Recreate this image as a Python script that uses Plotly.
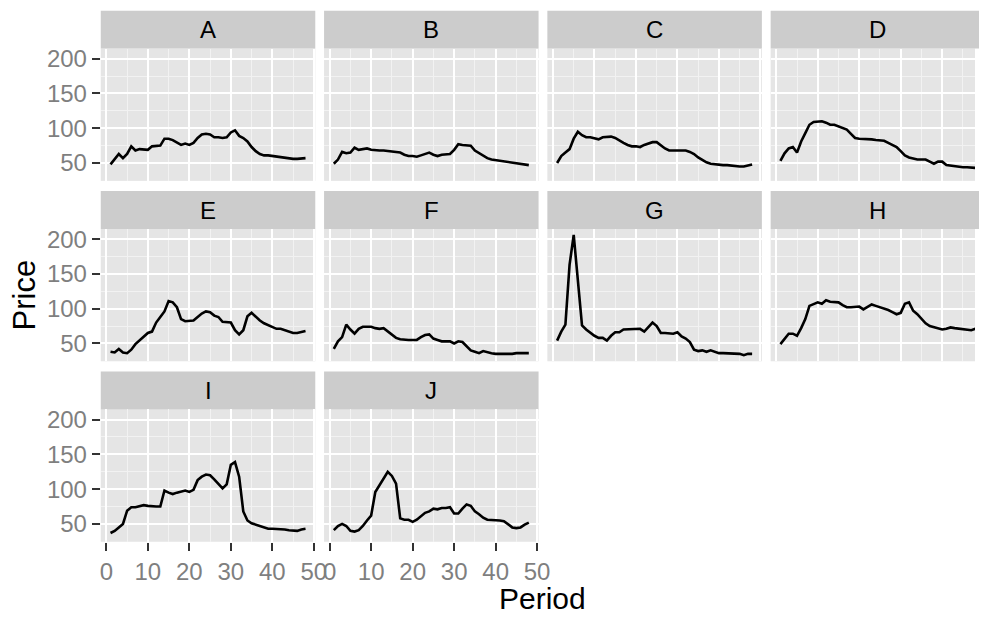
import plotly.graph_objects as go

periods = list(range(1, 49))
panel_names = ["A", "B", "C", "D", "E", "F", "G", "H", "I", "J"]

A = [48, 55, 63, 57, 63, 74, 68, 70, 70, 69, 74, 75, 75, 85, 85, 83, 79, 76, 78, 76,
     79, 86, 91, 92, 91, 87, 87, 86, 87, 94, 97, 89, 86, 81, 73, 67, 63, 61, 61, 60,
     60, 59, 57, 56, 56, 56, 56, 57]
B = [49, 55, 66, 64, 65, 72, 69, 70, 71, 69, 68, 68, 68, 67, 67, 66, 65, 62, 60, 60,
     59, 61, 63, 65, 62, 60, 62, 63, 63, 69, 77, 76, 76, 75, 68, 64, 60, 57, 55, 54,
     53, 52, 51, 50, 49, 48, 48, 47]
C = [50, 60, 65, 70, 85, 95, 90, 87, 87, 86, 84, 87, 88, 88, 86, 82, 79, 76, 74, 74,
     73, 76, 78, 80, 80, 75, 71, 68, 68, 68, 68, 68, 66, 63, 58, 54, 51, 49, 48, 48,
     47, 47, 46, 46, 45, 45, 46, 48]
D = [53, 64, 71, 73, 65, 81, 93, 105, 109, 110, 110, 108, 105, 105, 103, 100, 98, 92, 86, 85,
     85, 84, 84, 83, 82, 82, 79, 76, 73, 67, 61, 58, 56, 55, 55, 55, 52, 49, 52, 52,
     47, 46, 45, 45, 44, 44, 44, 43]
E = [38, 37, 42, 37, 36, 41, 49, 54, 60, 65, 67, 80, 88, 96, 111, 109, 102, 85, 82, 83,
     83, 88, 93, 96, 95, 90, 88, 81, 80, 80, 69, 63, 69, 89, 94, 88, 83, 79, 76, 73,
     71, 71, 69, 66, 65, 65, 66, 68]
F = [42, 53, 59, 77, 70, 64, 71, 74, 74, 74, 72, 71, 72, 67, 62, 58, 56, 55, 55, 55,
     55, 59, 62, 63, 57, 55, 53, 53, 53, 50, 53, 52, 46, 40, 38, 36, 39, 37, 36, 35,
     35, 34, 34, 35, 36, 36, 37, 36]
G = [54, 67, 77, 163, 206, 140, 76, 70, 65, 61, 58, 58, 54, 61, 66, 66, 70, 70, 70, 70,
     71, 67, 74, 80, 75, 65, 65, 65, 64, 66, 60, 57, 52, 41, 39, 40, 38, 40, 38, 36,
     36, 36, 35, 35, 35, 33, 35, 35]
Hs = [49, 57, 64, 64, 61, 72, 85, 104, 107, 109, 107, 112, 110, 110, 109, 105, 102, 102, 103, 103,
      99, 102, 106, 104, 102, 101, 98, 95, 92, 94, 107, 109, 97, 92, 86, 79, 75, 73, 71, 70,
      71, 73, 72, 71, 71, 69, 69, 71]
I = [37, 40, 45, 50, 69, 74, 74, 75, 77, 76, 75, 75, 75, 98, 95, 93, 95, 96, 98, 96,
     99, 113, 118, 121, 120, 114, 107, 101, 107, 135, 139, 118, 68, 55, 51, 49, 48, 45, 43, 43,
     43, 42, 42, 41, 41, 40, 42, 43]
J = [41, 47, 50, 47, 40, 39, 41, 47, 55, 62, 96, 106, 115, 125, 119, 108, 58, 56, 56, 53,
     56, 61, 66, 68, 72, 71, 73, 73, 74, 65, 65, 72, 78, 76, 68, 64, 59, 56, 56, 56,
     55, 54, 49, 45, 44, 45, 49, 52]

series = [A, B, C, D, E, F, G, Hs, I, J]

# the page body has an 8px margin; place the figure so the window matches
OFF = 8.0
W_WIN, H_WIN = 987, 617
W, H = W_WIN - int(OFF), H_WIN - int(OFF)

col_left = [101.0, 327.3, 553.6, 779.9]   # window pixels
pw = 217.4
row_top = [45.7, 227.0, 408.4]
ph = 133.0
strip_h = 38.0


def fx(px):
    return (px - OFF) / W


def fy(py):
    return 1 - (py - OFF) / H


FONT = "Liberation Sans, Arial, sans-serif"
TICK_FONT = dict(family=FONT, size=24, color="#7F7F7F")

xmin, xmax = min(periods), max(periods)
xpad = 0.05 * (xmax - xmin)
x_lo, x_hi = xmin - xpad, xmax + xpad
allv = [v for s in series for v in s]
ymin, ymax = min(allv), max(allv)
ypad = 0.05 * (ymax - ymin)
y_lo, y_hi = ymin - ypad, ymax + ypad

fig = go.Figure()
shapes = []
annotations = []

for i, (name, vals) in enumerate(zip(panel_names, series)):
    r, c = divmod(i, 4)
    n = i + 1
    xa = "x" if n == 1 else f"x{n}"
    ya = "y" if n == 1 else f"y{n}"
    left = col_left[c]
    right = left + pw
    xr_hi = x_hi
    if right > W_WIN:
        xr_hi = x_lo + (W_WIN - left) / pw * (x_hi - x_lo)
        right = W_WIN
    top = row_top[r]
    bottom = top + ph
    fig.add_trace(go.Scatter(x=periods, y=vals, mode="lines",
                             line=dict(color="black", width=2.6),
                             xaxis=xa, yaxis=ya, showlegend=False,
                             hoverinfo="skip"))
    show_x = r == 2
    show_y = c == 0
    xkey = "xaxis" if n == 1 else f"xaxis{n}"
    ykey = "yaxis" if n == 1 else f"yaxis{n}"
    fig.layout[xkey] = dict(
        domain=[max(fx(left), 0), min(fx(right), 1)], anchor=ya, range=[x_lo, xr_hi],
        tickmode="array", tickvals=[0, 10, 20, 30, 40, 50],
        showticklabels=show_x, ticks="outside" if show_x else "",
        ticklen=8, tickwidth=1.5, tickcolor="#333333", tickfont=TICK_FONT,
        showgrid=True, gridcolor="white", gridwidth=2, zeroline=False,
        showline=False, fixedrange=True,
        minor=dict(tickmode="array", tickvals=[5, 15, 25, 35, 45], showgrid=True,
                   gridcolor="#F2F2F2", gridwidth=1, ticks=""),
    )
    fig.layout[ykey] = dict(
        domain=[fy(bottom), fy(top)], anchor=xa, range=[y_lo, y_hi],
        tickmode="array", tickvals=[50, 100, 150, 200],
        showticklabels=show_y, ticks="outside" if show_y else "",
        ticklen=8, tickwidth=1.5, tickcolor="#333333", tickfont=TICK_FONT,
        showgrid=True, gridcolor="white", gridwidth=2, zeroline=False,
        showline=False, fixedrange=True,
        minor=dict(tickmode="array", tickvals=[25, 75, 125, 175], showgrid=True,
                   gridcolor="#F2F2F2", gridwidth=1, ticks=""),
    )
    shapes.append(dict(type="rect", xref="paper", yref="paper",
                       x0=fx(left), x1=fx(col_left[c] + pw),
                       y0=fy(top), y1=fy(top - strip_h),
                       fillcolor="#CCCCCC", line=dict(width=0), layer="below"))
    annotations.append(dict(text=name, xref="paper", yref="paper",
                            x=fx(col_left[c] + pw / 2),
                            y=fy(top - strip_h / 2),
                            showarrow=False, xanchor="center", yanchor="middle",
                            font=dict(family=FONT, size=24, color="black")))

annotations.append(dict(text="Price", xref="paper", yref="paper",
                        x=fx(24), y=fy(293), textangle=-90, showarrow=False,
                        xanchor="center", yanchor="middle",
                        font=dict(family=FONT, size=31, color="black")))
annotations.append(dict(text="Period", xref="paper", yref="paper",
                        x=fx(549), y=fy(598), showarrow=False,
                        xanchor="center", yanchor="middle",
                        font=dict(family=FONT, size=30, color="black")))

fig.update_layout(width=W, height=H, margin=dict(l=0, r=0, t=0, b=0),
                  paper_bgcolor="white", plot_bgcolor="#E5E5E5",
                  shapes=shapes, annotations=annotations, showlegend=False)

fig.write_html("out.html")
